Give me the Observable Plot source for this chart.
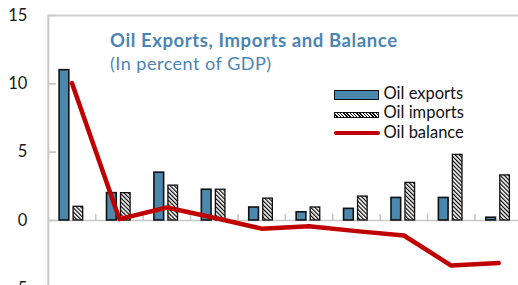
<!DOCTYPE html>
<html><head><meta charset="utf-8">
<script src="https://cdn.jsdelivr.net/npm/d3@7"></script>
<script src="https://cdn.jsdelivr.net/npm/@observablehq/plot@0.6"></script>
<style>
html,body{margin:0;padding:0;background:#fff;}
#wrap{position:relative;width:518px;height:285px;overflow:hidden;font-family:Lato,sans-serif;}
#wrap svg{position:absolute;left:0;top:0;}
.ttl{position:absolute;left:110px;color:#4a85b4;line-height:22px;white-space:nowrap;}
.lg{position:absolute;left:383.5px;font-size:16.5px;line-height:20px;color:#111;white-space:nowrap;}
.sw{position:absolute;left:334px;width:45px;box-sizing:border-box;}
</style></head><body><div id="wrap"></div>
<script>
const categories = ["C1","C2","C3","C4","C5","C6","C7","C8","C9","C10"];
const oilExports = [11.0, 2.0, 3.5, 2.25, 0.95, 0.6, 0.85, 1.65, 1.65, 0.2];
const oilImports = [1.0, 2.0, 2.55, 2.25, 1.6, 0.95, 1.75, 2.75, 4.8, 3.3];
const oilBalance = [10.05, 0.1, 0.95, 0.2, -0.6, -0.42, -0.78, -1.1, -3.3, -3.12];
const yTicks = [15, 10, 5, 0, -5];
const titleText = "Oil Exports, Imports and Balance";
const subtitleText = "(In percent of GDP)";
const seriesNames = ["Oil exports", "Oil imports", "Oil balance"];

const rows = categories.map((c, i) => ({i, c, exp: oilExports[i], imp: oilImports[i], bal: oilBalance[i]}));
const bounds = rows.slice(1).map(d => d.i - 0.5);

const plot = Plot.plot({
  width: 518, height: 285,
  marginLeft: 48, marginRight: 0, marginTop: 15, marginBottom: 0,
  style: {fontFamily: "Lato, sans-serif", background: "transparent", overflow: "visible"},
  x: {type: "linear", domain: [-0.5, categories.length - 0.5], range: [47.8, 521.9], axis: null},
  y: {domain: [-5, 15], range: [288.3, 15], axis: null},
  marks: [
    Plot.ruleY([0], {stroke: "#c8c8c8", strokeWidth: 1.6}),
    Plot.ruleY([15], {stroke: "#d0d0d0", strokeWidth: 2}),
    Plot.ruleX([-0.5], {stroke: "#c8c8c8", strokeWidth: 2}),
    Plot.vector(yTicks, {x: -0.5, y: d => d, rotate: 90, length: 7, anchor: "start", r: 0, stroke: "#c8c8c8", strokeWidth: 1.6}),
    Plot.vector(bounds, {x: d => d, y: 0, length: 6, anchor: "start", r: 0, stroke: "#c8c8c8", strokeWidth: 1.6}),
    Plot.rect(rows, {x1: d => d.i - 0.5, x2: d => d.i + 0.5, y1: 0, y2: "exp", insetLeft: 11.3, insetRight: 26.4, fill: "#4a89ad", stroke: "#111", strokeWidth: 1.6}),
    Plot.rect(rows, {x1: d => d.i - 0.5, x2: d => d.i + 0.5, y1: 0, y2: "imp", insetLeft: 25.3, insetRight: 12.5, fill: "url(#hatch)", stroke: "#111", strokeWidth: 1.3}),
    Plot.line(rows, {x: "i", y: "bal", stroke: "#c00000", strokeWidth: 4.5}),
    Plot.text(yTicks, {x: -0.5, y: d => d, dx: -21, textAnchor: "end", fontSize: 16.5, fill: "#1a1a1a", text: d => d < 0 ? "-" + Math.abs(d) : String(d)})
  ]
});

const ns = "http://www.w3.org/2000/svg";
const defs = document.createElementNS(ns, "defs");
defs.innerHTML = '<pattern id="hatch" patternUnits="userSpaceOnUse" width="2.9" height="2.9" patternTransform="rotate(-45)"><rect width="2.9" height="2.9" fill="#fff"/><line x1="0.6" y1="0" x2="0.6" y2="2.9" stroke="#000" stroke-width="1.2"/></pattern>';
plot.insertBefore(defs, plot.firstChild);

const wrap = document.getElementById("wrap");
wrap.appendChild(plot);

function addDiv(cls, text, top, extra) {
  const d = document.createElement("div");
  d.className = cls;
  d.textContent = text;
  d.style.top = top + "px";
  if (extra) Object.assign(d.style, extra);
  wrap.appendChild(d);
  return d;
}
addDiv("ttl", titleText, 28.5, {fontWeight: "700", fontSize: "18.5px", letterSpacing: "0.6px"});
addDiv("ttl", subtitleText, 52, {fontSize: "18px", letterSpacing: "0.5px"});

const legendTops = [82.6, 102.1, 121.6];
seriesNames.forEach((n, k) => addDiv("lg", n, legendTops[k]));
const s1 = document.createElement("div"); s1.className = "sw";
Object.assign(s1.style, {top: "90px", height: "9.5px", background: "#4a89ad", border: "1.6px solid #111"});
const s2 = document.createElement("div"); s2.className = "sw";
Object.assign(s2.style, {top: "111.5px", height: "6px", border: "1.2px solid #111",
  background: "repeating-linear-gradient(45deg, #fff 0px, #fff 1.3px, #000 1.3px, #000 2.3px)"});
const s3 = document.createElement("div"); s3.className = "sw";
Object.assign(s3.style, {top: "131.3px", height: "4px", background: "#c00000", borderRadius: "2px", width: "46px"});
wrap.append(s1, s2, s3);
</script></body></html>
